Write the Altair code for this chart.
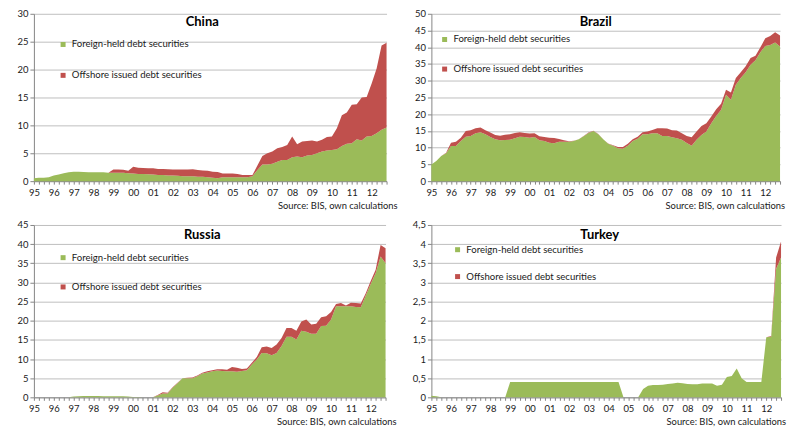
import altair as alt
import pandas as pd

quarters = [f"{y}Q{q}" for y in range(1995, 2013) for q in range(1, 5)]

series_names = ["Foreign-held debt securities", "Offshore issued debt securities"]
series_colors = ["#9BBB59", "#C0504D"]
source_note = "Source: BIS, own calculations"

china_foreign = [
    0.5, 0.6, 0.6, 0.7, 1.0, 1.2, 1.4, 1.6, 1.7, 1.7, 1.65, 1.6,
    1.6, 1.6, 1.6, 1.5, 1.5, 1.5, 1.5, 1.4, 1.35, 1.3, 1.3, 1.25,
    1.2, 1.1, 1.1, 1.0, 1.0, 0.95, 0.9, 0.9, 0.9, 0.8, 0.8, 0.7,
    0.6, 0.5, 0.7, 0.7, 0.7, 0.7, 0.7, 0.7, 0.9, 2.0, 3.0, 3.0,
    3.1, 3.5, 3.8, 3.8, 4.3, 4.4, 4.3, 4.6, 4.7, 5.0, 5.3, 5.5,
    5.6, 5.7, 6.3, 6.7, 6.8, 7.5, 7.3, 8.0, 8.1, 8.6, 9.2, 9.6,
]
china_offshore = [
    0, 0, 0, 0, 0, 0, 0, 0, 0, 0, 0, 0,
    0, 0, 0, 0, 0.6, 0.6, 0.55, 0.45, 1.25, 1.1, 1.05, 1.05,
    1.1, 1.1, 1.1, 1.15, 1.1, 1.15, 1.2, 1.2, 1.25, 1.2, 1.1, 1.15,
    1.1, 1.15, 0.65, 0.65, 0.65, 0.6, 0.4, 0.4, 0.2, 0.8, 1.5, 2.0,
    2.2, 2.4, 2.3, 2.7, 3.7, 2.2, 2.8, 2.6, 2.6, 2.1, 2.1, 2.4,
    2.4, 3.8, 5.5, 5.6, 6.9, 6.3, 7.7, 7.1, 9.4, 11.6, 15.1, 15.2,
]

brazil_foreign = [
    5.0, 6.0, 7.5, 8.3, 10.5, 10.5, 12.0, 13.3, 13.5, 14.3, 14.6, 14.0,
    13.2, 12.5, 12.2, 12.3, 12.4, 12.8, 13.3, 13.2, 13.0, 13.2, 12.2, 12.0,
    11.5, 11.3, 11.8, 11.8, 11.8, 12.0, 12.5, 13.4, 14.4, 15.0, 14.0, 12.5,
    11.2, 10.6, 9.8, 9.7, 10.6, 12.0, 12.7, 14.0, 14.0, 14.3, 14.3, 13.5,
    13.5, 13.1, 12.8, 12.4, 11.4, 10.6, 12.4, 13.8, 14.8, 17.3, 19.5, 21.3,
    25.8, 24.3, 28.8, 30.8, 32.5, 34.8, 36.1, 38.5, 40.4, 40.7, 41.4, 40.2,
]
brazil_offshore = [
    0, 0, 0, 0.2, 1.0, 1.3, 1.0, 1.7, 1.7, 1.5, 1.4, 1.2,
    1.3, 1.3, 1.4, 1.6, 1.6, 1.6, 1.3, 1.2, 1.2, 1.1, 1.2, 1.2,
    1.5, 1.6, 0.8, 0.4, 0.1, 0.05, 0.05, 0.1, 0.1, 0.05, 0.05, 0.05,
    0.05, 0.1, 0.4, 0.5, 0.6, 0.5, 0.6, 0.6, 0.8, 1.0, 1.5, 2.3,
    2.2, 2.1, 2.3, 1.9, 2.1, 2.5, 2.4, 2.7, 2.5, 2.0, 2.0, 1.8,
    1.5, 2.2, 2.0, 1.7, 1.8, 2.0, 1.4, 1.5, 2.3, 2.7, 3.1, 3.3,
]

russia_foreign = [
    0, 0, 0, 0, 0, 0, 0, 0, 0.2, 0.3, 0.35, 0.35,
    0.35, 0.35, 0.3, 0.3, 0.3, 0.3, 0.25, 0.2, 0.1, 0.1, 0.05, 0.05,
    0.05, 0.5, 1.0, 1.0, 2.5, 3.7, 5.0, 5.0, 5.0, 5.5, 6.2, 6.5,
    6.8, 7.0, 6.9, 6.8, 6.8, 6.7, 6.9, 7.1, 8.6, 9.9, 11.6, 11.5,
    11.0, 11.6, 13.4, 15.8, 15.8, 15.1, 17.4, 17.1, 16.6, 16.6, 18.6, 18.7,
    20.3, 23.8, 23.8, 23.8, 23.8, 23.6, 23.5, 26.6, 29.6, 32.4, 36.8, 35.0,
]
russia_offshore = [
    0, 0, 0, 0, 0, 0, 0, 0, 0, 0, 0, 0,
    0, 0, 0, 0, 0, 0, 0, 0, 0, 0, 0, 0,
    0, 0.1, 0.3, 0.2, 0.1, 0.1, 0.0, 0.1, 0.2, 0.2, 0.2, 0.3,
    0.3, 0.3, 0.4, 0.4, 1.1, 1.0, 0.5, 0.4, 0.4, 0.6, 1.5, 1.8,
    1.9, 2.2, 2.1, 2.3, 2.3, 2.3, 2.4, 3.2, 2.4, 2.6, 2.3, 2.5,
    2.0, 0.6, 0.8, 0.2, 0.9, 1.0, 1.0, 0.6, 0.8, 0.9, 3.0, 3.9,
]

turkey_foreign = [
    0.04, 0.03, 0, 0, 0, 0, 0, 0, 0, 0, 0, 0,
    0, 0, 0, 0, 0.4, 0.4, 0.4, 0.4, 0.4, 0.4, 0.4, 0.4,
    0.4, 0.4, 0.4, 0.4, 0.4, 0.4, 0.4, 0.4, 0.4, 0.4, 0.4, 0.4,
    0.4, 0.4, 0.4, 0, 0, 0, 0, 0.22, 0.3, 0.32, 0.32, 0.33,
    0.35, 0.36, 0.38, 0.37, 0.35, 0.34, 0.34, 0.36, 0.36, 0.36, 0.30, 0.33,
    0.53, 0.56, 0.75, 0.50, 0.40, 0.40, 0.40, 0.40, 1.57, 1.58, 3.35, 3.65,
]
turkey_offshore = [0] * 69 + [0.02, 0.3, 0.42]

FONT = "Lato"


def make_frame(foreign, offshore):
    rows = []
    for i, q in enumerate(quarters):
        t = int(q[:4]) + (int(q[-1]) - 1) / 4
        rows.append({"t": t, "value": foreign[i], "series": series_names[0], "ord": 0})
        rows.append({"t": t, "value": offshore[i], "series": series_names[1], "ord": 1})
    return pd.DataFrame(rows)


def panel(name, foreign, offshore, ymax, ystep, w, h, leg, title_pos, comma=False):
    df = make_frame(foreign, offshore)
    n = int(round(ymax / ystep))
    yvals = [round(k * ystep, 2) for k in range(n + 1)]
    qticks = [1995 + k / 4 for k in range(72)]

    y_axis = alt.Axis(values=yvals, title=None, tickSize=4, labelPadding=2,
                      gridColor="#BFBFBF", gridWidth=1)
    if comma:
        y_axis = alt.Axis(values=yvals, title=None, tickSize=4, labelPadding=2,
                          gridColor="#BFBFBF", gridWidth=1,
                          labelExpr="replace(toString(datum.value), '.', ',')")

    areas = alt.Chart(df).mark_area(interpolate="linear", opacity=1).encode(
        x=alt.X("t:Q", scale=alt.Scale(domain=[1995, 2012.75], nice=False, zero=False),
                axis=alt.Axis(values=qticks, title=None, grid=False, tickSize=3,
                              labelOverlap=False, labelFlush=False, labelPadding=3,
                              labelExpr="datum.value % 1 == 0 ? substring(toString(datum.value), 2, 4) : ''")),
        y=alt.Y("value:Q", stack="zero",
                scale=alt.Scale(domain=[0, ymax], nice=False), axis=y_axis),
        color=alt.Color("series:N",
                        scale=alt.Scale(domain=series_names, range=series_colors),
                        legend=alt.Legend(orient="none", legendX=leg[0], legendY=leg[1],
                                          title=None, symbolType="square", symbolSize=25,
                                          symbolStrokeWidth=0, symbolOpacity=1,
                                          labelFont=FONT, labelFontSize=9.6,
                                          labelColor="#1a1a1a", labelOffset=4,
                                          rowPadding=leg[2], padding=0)),
        order=alt.Order("ord:Q"),
    )

    title = alt.Chart(pd.DataFrame({"name": [name]})).mark_text(
        font=FONT, fontSize=13, fontWeight="bold", color="#000000", align="center", baseline="middle"
    ).encode(text="name:N", x=alt.value(title_pos[0]), y=alt.value(title_pos[1]))

    source = alt.Chart(pd.DataFrame({"s": [source_note]})).mark_text(
        font=FONT, fontSize=9.4, color="#1a1a1a", align="right", baseline="middle"
    ).encode(text="s:N", x=alt.value(title_pos[2]), y=alt.value(h + 25))

    return alt.layer(areas, title, source).properties(width=w, height=h)


china = panel("China", china_foreign, china_offshore, 30, 5, 354, 168,
              (24.5, 26, 20), (169, 8.5, 365))
brazil = panel("Brazil", brazil_foreign, brazil_offshore, 50, 5, 350, 168,
               (8.5, 21, 18.7), (165, 8, 355))
russia = panel("Russia", russia_foreign, russia_offshore, 45, 5, 353, 173,
               (24.5, 28, 18.4), (169, 10, 364))
turkey = panel("Turkey", turkey_foreign, turkey_offshore, 4.5, 0.5, 351, 173,
               (21.5, 20, 16), (169, 10.5, 356), comma=True)

chart = alt.concat(
    china, brazil, russia, turkey, columns=2,
    spacing={"row": 44, "column": 45}, bounds="flush"
).resolve_scale(
    color="independent"
).properties(
    padding={"left": 8, "top": 0, "right": 5, "bottom": 5}
).configure_view(
    stroke=None
).configure_axis(
    labelFont=FONT, labelFontSize=9.5, labelColor="#1a1a1a",
    domainColor="#868686", tickColor="#868686", domainWidth=1, tickWidth=1
)

chart.save("out.html", embed_options={"renderer": "svg", "actions": False})
